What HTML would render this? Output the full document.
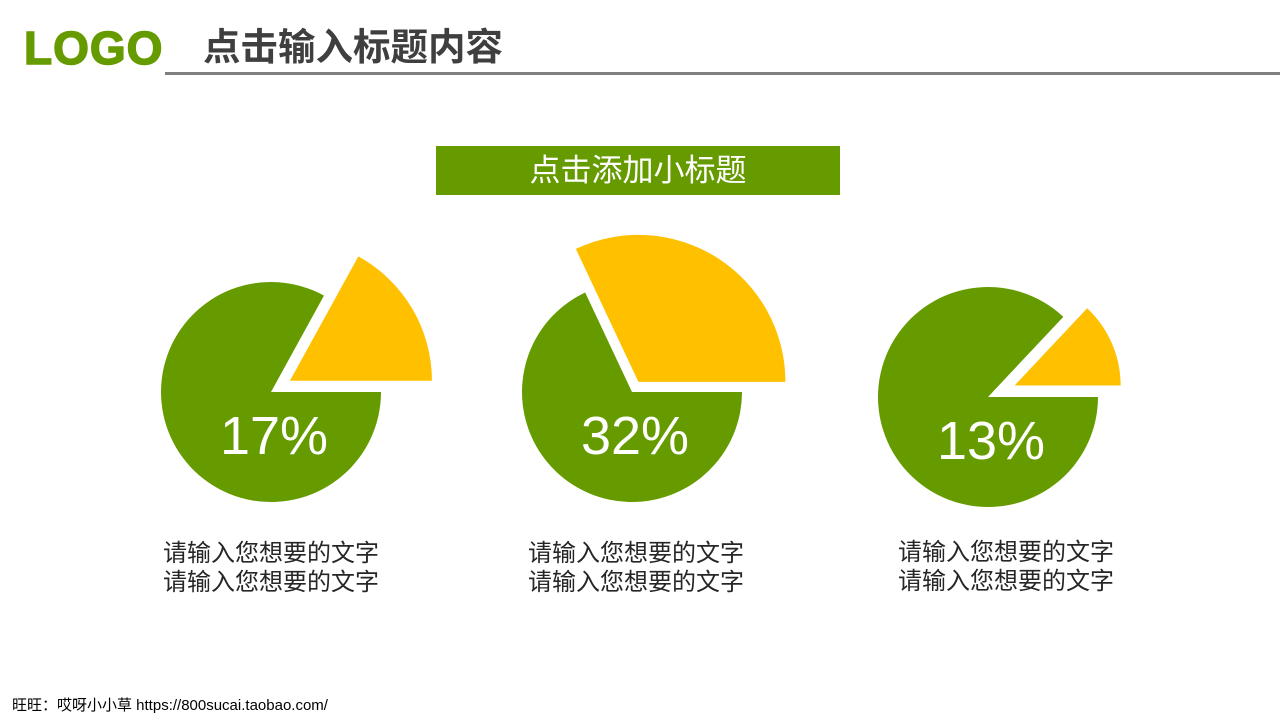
<!DOCTYPE html>
<html><head><meta charset="utf-8">
<style>
body{margin:0;width:1280px;height:720px;background:#fff;position:relative;overflow:hidden;font-family:"Liberation Sans","Noto Sans CJK SC",sans-serif}
.abs{position:absolute}
.logo{left:24px;top:23px;font-size:46px;font-weight:900;color:#669b00;letter-spacing:1px;line-height:50px;-webkit-text-stroke:1.5px #669b00}
.title{left:203px;top:25px;font-size:37.5px;font-weight:bold;color:#3f3f3f;line-height:44px}
.rule{left:165px;top:72px;width:1115px;height:3px;background:#7f7f7f}
.sub{left:436px;top:146px;width:404px;height:49px;background:#669b00;color:#fff;font-size:31px;text-align:center;line-height:49px}
.desc{font-size:24px;color:#262626;line-height:29px;width:260px;white-space:nowrap}
.foot{left:12px;top:694px;font-size:15px;color:#000}
</style></head><body>
<div class="abs logo">LOGO</div>
<div class="abs title">点击输入标题内容</div>
<div class="abs rule"></div>
<div class="abs sub">点击添加小标题</div>
<svg class="abs" style="left:0;top:0" width="1280" height="720" id="chart"></svg>
<div class="abs desc" style="left:163px;top:539px">请输入您想要的文字<br>请输入您想要的文字</div>
<div class="abs desc" style="left:528px;top:539px">请输入您想要的文字<br>请输入您想要的文字</div>
<div class="abs desc" style="left:898px;top:538px">请输入您想要的文字<br>请输入您想要的文字</div>
<div class="abs foot">旺旺：哎呀小小草 https://800sucai.taobao.com/</div>
<script>
const labels=["17%","32%","13%"];
const values=[17,32,13];
const centersX=[271,632,988];
const centersY=[392,392,397];
const yellowR=[142,147,106];
const offsets=[22,12,29];
const svg=document.getElementById('chart');
const NS="http://www.w3.org/2000/svg";
function pt(cx,cy,r,a){return [cx+r*Math.cos(a),cy-r*Math.sin(a)];}
function sector(cx,cy,r,a0,a1){
  const p0=pt(cx,cy,r,a0),p1=pt(cx,cy,r,a1);
  const large=(a1-a0)>Math.PI?1:0;
  return `M${cx},${cy} L${p0[0]},${p0[1]} A${r},${r} 0 ${large} 0 ${p1[0]},${p1[1]} Z`;
}
values.forEach((v,i)=>{
  const cx=centersX[i],cy=centersY[i],R=110;
  const a=v/100*2*Math.PI;
  const g=document.createElementNS(NS,'path');
  g.setAttribute('d',sector(cx,cy,R,a,2*Math.PI));
  g.setAttribute('fill','#669b00');
  
  
  svg.appendChild(g);
  const mid=a/2,off=offsets[i];
  const ox=cx+off*Math.cos(mid),oy=cy-off*Math.sin(mid);
  const y=document.createElementNS(NS,'path');
  y.setAttribute('d',sector(ox,oy,yellowR[i],0,a));
  y.setAttribute('fill','#ffc000');
  
  
  svg.appendChild(y);
  const t=document.createElementNS(NS,'text');
  t.setAttribute('x',cx+3);t.setAttribute('y',cy+62);
  t.setAttribute('text-anchor','middle');t.setAttribute('fill','#fff');
  t.setAttribute('font-size','54');t.setAttribute('font-family','Liberation Sans, sans-serif');
  t.textContent=labels[i];
  
  
  svg.appendChild(t);
});
</script>
</body></html>
